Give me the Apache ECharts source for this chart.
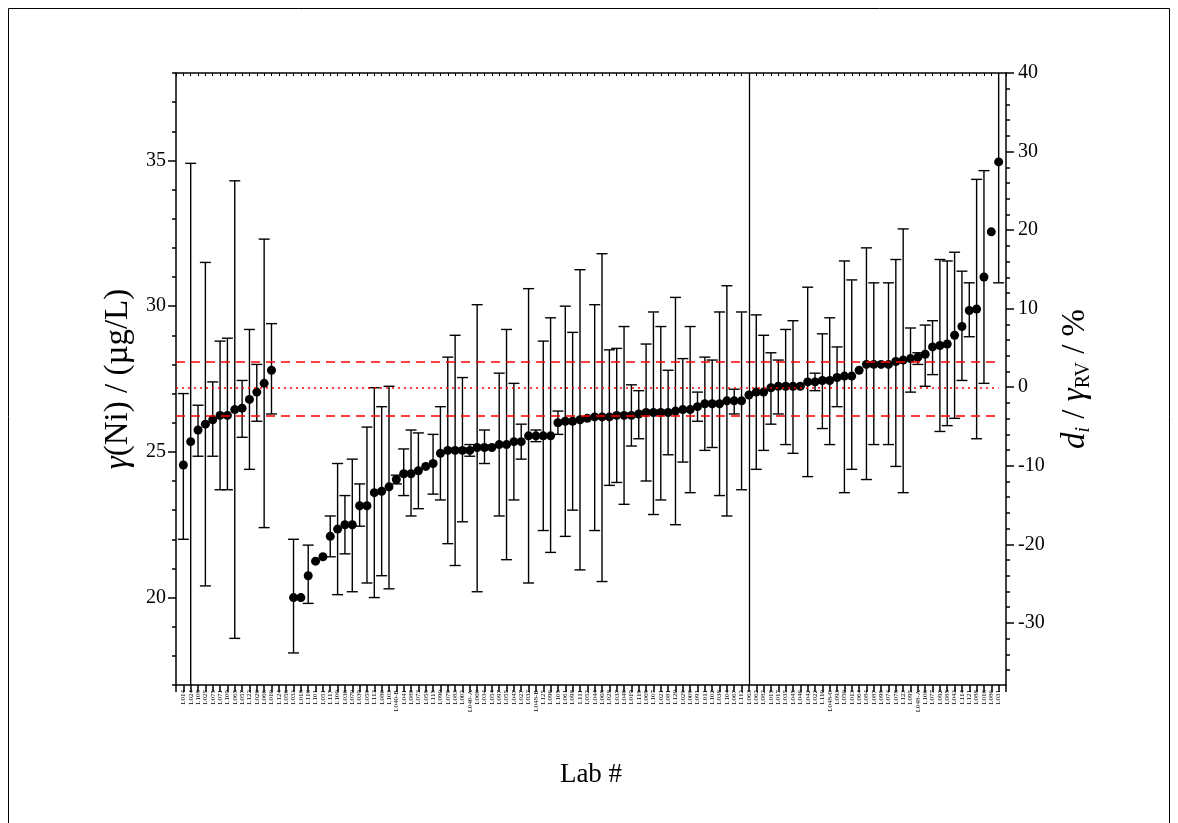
<!DOCTYPE html>
<html>
<head>
<meta charset="utf-8">
<script src="https://cdn.jsdelivr.net/npm/echarts@6/dist/echarts.min.js"></script>
<style>
html,body{margin:0;padding:0;background:#fff;}
#chart{width:1178px;height:823px;}
</style>
</head>
<body>
<div id="chart"></div>
<script>
// ---------------- data ----------------
const labs = [
 'L014','L024','L108','L025','L075','L071','L109','L065','L057','L122',
 'L026','L066','L010','L124','L056','L033','L018','L116','L101','L051',
 'L117','L100','L036','L070','L039','L059','L113','L080','L103','L040-B',
 'L041','L089','L073','L058','L115','L090','L079','L083','L002','L040-A',
 'L060','L034','L054','L097','L055','L047','L027','L032','L048-B','L125',
 'L096','L105','L061','L098','L111','L052','L044','L068','L028','L037',
 'L049','L019','L119','L069','L107','L021','L081','L120','L029','L009',
 'L091','L011','L102','L038','L104','L067','L112','L063','L062','L082',
 'L015','L017','L035','L045','L046','L042','L022','L110','L048-C','L093',
 'L050','L013','L064','L084','L087','L099','L074','L078','L123','L095',
 'L048-A','L106','L077','L092','L085','L043','L114','L121','L088','L016',
 'L086','L031'
];
const values = [
 24.55, 25.35, 25.75, 25.95, 26.1, 26.25, 26.25, 26.45, 26.5, 26.8,
 27.05, 27.35, 27.8, null, null, 20.0, 20.0, 20.75, 21.25, 21.4,
 22.1, 22.35, 22.5, 22.5, 23.15, 23.15, 23.6, 23.65, 23.8, 24.05,
 24.25, 24.25, 24.35, 24.5, 24.6, 24.95, 25.05, 25.05, 25.05, 25.05,
 25.15, 25.15, 25.15, 25.25, 25.25, 25.35, 25.35, 25.55, 25.55, 25.55,
 25.55, 26.0, 26.05, 26.05, 26.1, 26.15, 26.2, 26.2, 26.2, 26.25,
 26.25, 26.25, 26.3, 26.35, 26.35, 26.35, 26.35, 26.4, 26.45, 26.45,
 26.55, 26.65, 26.65, 26.65, 26.75, 26.75, 26.75, 26.95, 27.05, 27.05,
 27.2, 27.25, 27.25, 27.25, 27.25, 27.4, 27.4, 27.45, 27.45, 27.55,
 27.6, 27.6, 27.8, 28.0, 28.0, 28.0, 28.0, 28.1, 28.15, 28.2,
 28.25, 28.35, 28.6, 28.65, 28.7, 29.0, 29.3, 29.85, 29.9, 31.0,
 32.55, 34.95
];
const errLow = [
 22.0, 16.0, 24.85, 20.4, 24.85, 23.7, 23.7, 18.6, 25.5, 24.4,
 26.05, 22.4, 26.3, null, null, 18.1, null, 19.8, null, null,
 21.4, 20.1, 21.5, 20.2, 22.45, 20.5, 20.0, 20.75, 20.3, 23.9,
 23.5, 22.8, 23.05, null, 23.55, 23.35, 21.85, 21.1, 22.6, 24.85,
 20.2, 24.6, null, 22.8, 21.3, 23.35, 24.75, 20.5, 25.35, 22.3,
 21.55, 25.6, 22.1, 23.0, 20.95, null, 22.3, 20.55, 23.85, 23.95,
 23.2, 25.2, 25.45, 24.0, 22.85, 23.35, 24.9, 22.5, 24.65, 23.6,
 26.05, 25.05, 25.15, 23.5, 22.8, 26.3, 23.7, null, 24.4, 25.05,
 25.95, 26.3, 25.25, 24.95, null, 24.15, 27.1, 25.8, 25.25, 26.55,
 23.6, 24.4, null, 24.05, 25.25, null, 25.25, 24.5, 23.6, 27.05,
 28.0, 27.25, 27.65, 25.7, 25.9, 26.15, 27.45, 28.95, 25.45, 27.35,
 null, 30.8
];
const errHigh = [
 27.0, 34.9, 26.6, 31.5, 27.4, 28.8, 28.9, 34.3, 27.45, 29.2,
 28.0, 32.3, 29.4, null, null, 22.0, null, 21.8, null, null,
 22.8, 24.6, 23.5, 24.75, 23.9, 25.85, 27.2, 26.55, 27.25, 24.2,
 25.1, 25.75, 25.65, null, 25.6, 26.55, 28.25, 29.0, 27.55, 25.25,
 30.05, 25.75, null, 27.7, 29.2, 27.35, 25.95, 30.6, 25.75, 28.8,
 29.6, 26.4, 30.0, 29.1, 31.25, null, 30.05, 31.8, 28.5, 28.55,
 29.3, 27.3, 27.1, 28.7, 29.8, 29.3, 27.8, 30.3, 28.2, 29.3,
 27.05, 28.25, 28.15, 29.8, 30.7, 27.15, 29.8, null, 29.7, 29.0,
 28.4, 28.15, 29.2, 29.5, null, 30.65, 27.7, 29.05, 29.6, 28.6,
 31.55, 30.9, null, 32.0, 30.8, null, 30.8, 31.6, 32.65, 29.25,
 28.4, 29.35, 29.5, 31.6, 31.55, 31.85, 31.2, 30.8, 34.35, 34.65,
 null, 40.0
];
const leftTicks = [20, 25, 30, 35];
const rightTicks = [-30, -20, -10, 0, 10, 20, 30, 40];
const refValue = 27.19;
const upperLimit = 28.08;
const lowerLimit = 26.23;
const dividerIndex = 77;

// ---------------- build ----------------
const FONT = 'Liberation Serif';
const yMin = 17, yMax = 38;
const rMin = -37.9, rMax = 40;
const xMin = -1, xMax = labs.length;

const rightMinor = [];
for (let v = -36; v <= 40; v += 2) { if (v % 10 !== 0) rightMinor.push(v); }

const pointData = [];
values.forEach((v, i) => { if (v !== null) pointData.push([i, v]); });
const errData = [];
errLow.forEach((lo, i) => { if (lo !== null && errHigh[i] !== null) errData.push([i, lo, errHigh[i]]); });

const axisLineStyle = { color: '#000', width: 1.5 };
const TITLE = 33;
const SUB = 20;

const chart = echarts.init(document.getElementById('chart'), null, { renderer: 'canvas' });
chart.setOption({
  animation: false,
  backgroundColor: '#fff',
  graphic: [{
    type: 'rect', silent: true,
    shape: { x: 8.5, y: 8.5, width: 1161, height: 840 },
    style: { fill: 'none', stroke: '#000', lineWidth: 1 }
  }],
  grid: { left: 176, top: 73, width: 830, height: 612, containLabel: false },
  xAxis: [{
    type: 'value', min: xMin, max: xMax, interval: 1, position: 'bottom',
    axisLine: { show: true, onZero: false, lineStyle: axisLineStyle },
    axisTick: { show: true, length: 7, lineStyle: { color: '#000', width: 1.5 } },
    axisLabel: {
      rotate: 90, fontSize: 7, fontFamily: FONT, color: '#000', margin: 5,
      formatter: v => (labs[v] !== undefined ? labs[v] : '')
    },
    splitLine: { show: false },
    name: 'Lab #', nameLocation: 'middle', nameGap: 76,
    nameTextStyle: { fontFamily: FONT, fontSize: 27, color: '#000' }
  }, {
    type: 'value', min: xMin, max: xMax, interval: 1, position: 'top',
    axisLine: { show: true, onZero: false, lineStyle: axisLineStyle },
    axisTick: { show: true, length: 3, inside: true, lineStyle: { color: '#000', width: 1 } },
    axisLabel: { show: false },
    splitLine: { show: false }
  }],
  yAxis: [{
    type: 'value', min: yMin, max: yMax, interval: 1, position: 'left',
    axisLine: { show: true, onZero: false, lineStyle: axisLineStyle },
    axisTick: { show: true, length: 4, lineStyle: { color: '#000', width: 1.5 } },
    axisLabel: { show: false },
    splitLine: { show: false }
  }, {
    type: 'value', min: yMin, max: yMax, position: 'left',
    axisLine: { show: false, onZero: false },
    axisTick: { show: true, length: 8, customValues: leftTicks, lineStyle: { color: '#000', width: 1.5 } },
    axisLabel: { customValues: leftTicks, fontSize: 20, fontFamily: FONT, color: '#000', margin: 10 },
    splitLine: { show: false },
    name: '{i|γ}(Ni) / (µg/L)', nameLocation: 'middle', nameRotate: 90, nameGap: 30,
    nameTextStyle: { fontFamily: FONT, fontSize: TITLE, color: '#000',
      rich: { i: { fontFamily: FONT, fontSize: TITLE, fontStyle: 'italic', color: '#000' } } }
  }, {
    type: 'value', min: rMin, max: rMax, position: 'right',
    axisLine: { show: true, onZero: false, lineStyle: axisLineStyle },
    axisTick: { show: true, length: 8, customValues: rightTicks, lineStyle: { color: '#000', width: 1.5 } },
    axisLabel: { customValues: rightTicks, fontSize: 20, fontFamily: FONT, color: '#000', margin: 12 },
    splitLine: { show: false },
    name: '{i|d}{si|i}{n| / }{i|γ}{s|RV}{n| / %}', nameLocation: 'middle', nameRotate: 90, nameGap: 50,
    nameTextStyle: { fontFamily: FONT, fontSize: TITLE, color: '#000',
      rich: {
        i: { fontFamily: FONT, fontSize: TITLE, fontStyle: 'italic', color: '#000', lineHeight: 38, verticalAlign: 'middle' },
        n: { fontFamily: FONT, fontSize: TITLE, color: '#000', lineHeight: 38, verticalAlign: 'middle' },
        si: { fontFamily: FONT, fontSize: SUB, fontStyle: 'italic', color: '#000', lineHeight: 20, verticalAlign: 'bottom' },
        s: { fontFamily: FONT, fontSize: SUB, color: '#000', lineHeight: 20, verticalAlign: 'bottom' }
      } }
  }, {
    type: 'value', min: rMin, max: rMax, position: 'right',
    axisLine: { show: false, onZero: false },
    axisTick: { show: true, length: 4, customValues: rightMinor, lineStyle: { color: '#000', width: 1.5 } },
    axisLabel: { show: false, customValues: rightMinor },
    splitLine: { show: false }
  }],
  series: [{
    type: 'custom', xAxisIndex: 0, yAxisIndex: 0, silent: true, z: 2,
    data: errData,
    encode: { x: 0, y: [1, 2] },
    renderItem: function (params, api) {
      const x = api.coord([api.value(0), api.value(1)])[0];
      const yLo = api.coord([api.value(0), api.value(1)])[1];
      const yHi = api.coord([api.value(0), api.value(2)])[1];
      const cs = params.coordSys;
      const top = cs.y, bottom = cs.y + cs.height;
      const y1 = Math.max(top, Math.min(bottom, yHi));
      const y2 = Math.max(top, Math.min(bottom, yLo));
      const st = { stroke: '#000', lineWidth: 1.4 };
      const half = 5.5;
      const ch = [{ type: 'line', shape: { x1: x, y1: y1, x2: x, y2: y2 }, style: st }];
      if (yHi >= top) ch.push({ type: 'line', shape: { x1: x - half, y1: yHi, x2: x + half, y2: yHi }, style: st });
      if (yLo <= bottom) ch.push({ type: 'line', shape: { x1: x - half, y1: yLo, x2: x + half, y2: yLo }, style: st });
      return { type: 'group', children: ch };
    }
  }, {
    type: 'scatter', xAxisIndex: 0, yAxisIndex: 0, z: 3,
    symbol: 'circle', symbolSize: 9,
    itemStyle: { color: '#000', opacity: 1 },
    data: pointData,
    markLine: {
      silent: true, symbol: 'none', label: { show: false }, animation: false,
      data: [
        [{ coord: [xMin, upperLimit], lineStyle: { color: '#ff0000', width: 1.5, type: [9, 6] } }, { coord: [labs.length - 1, upperLimit] }],
        [{ coord: [xMin, refValue], lineStyle: { color: '#ff0000', width: 1.5, type: [2, 4] } }, { coord: [labs.length - 1, refValue] }],
        [{ coord: [xMin, lowerLimit], lineStyle: { color: '#ff0000', width: 1.5, type: [9, 6] } }, { coord: [labs.length - 1, lowerLimit] }],
        [{ coord: [dividerIndex, yMin], lineStyle: { color: '#000', width: 1.3, type: 'solid' } }, { coord: [dividerIndex, yMax] }]
      ]
    }
  }]
});
</script>
</body>
</html>
